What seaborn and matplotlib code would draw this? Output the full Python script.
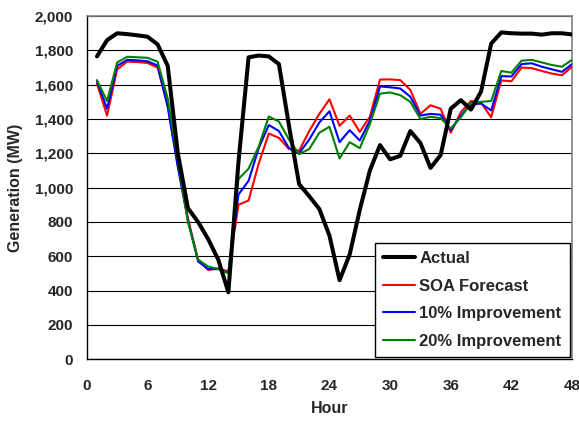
import numpy as np
import pandas as pd
import matplotlib
matplotlib.use("Agg")
import matplotlib.pyplot as plt
import matplotlib.ticker as mticker
import seaborn as sns

# ---- data (one value per hour) ----
hours = list(range(1, 49))

actual = [1765, 1860, 1900, 1895, 1888, 1880, 1835, 1710, 1200, 880,
          800, 700, 580, 390, 1150, 1760, 1770, 1765, 1720, 1360,
          1020, 950, 875, 720, 460, 610, 870, 1100, 1248, 1165,
          1185, 1330, 1260, 1115, 1190, 1460, 1510, 1455, 1560, 1840,
          1905, 1900, 1898, 1898, 1892, 1900, 1900, 1893]

soa = [1607, 1420, 1690, 1735, 1732, 1727, 1700, 1480, 1130, 820,
       580, 520, 530, 510, 900, 925, 1140, 1315, 1290, 1225,
       1215, 1330, 1430, 1515, 1360, 1420, 1325, 1413, 1630, 1631,
       1627, 1570, 1430, 1480, 1460, 1320, 1440, 1505, 1495, 1410,
       1625, 1620, 1700, 1697, 1680, 1665, 1655, 1705]

imp10 = [1620, 1460, 1710, 1745, 1742, 1737, 1712, 1470, 1120, 810,
         570, 525, 525, 505, 960, 1040, 1230, 1365, 1330, 1230,
         1200, 1280, 1380, 1445, 1265, 1335, 1275, 1390, 1590, 1585,
         1578, 1530, 1420, 1430, 1425, 1335, 1420, 1485, 1490, 1450,
         1650, 1648, 1720, 1725, 1705, 1690, 1675, 1720]

imp20 = [1627, 1505, 1730, 1763, 1760, 1757, 1734, 1520, 1160, 800,
         580, 540, 525, 500, 1050, 1110, 1240, 1415, 1385, 1280,
         1195, 1225, 1320, 1355, 1170, 1265, 1230, 1370, 1548, 1555,
         1539, 1500, 1400, 1413, 1405, 1345, 1410, 1495, 1500, 1505,
         1680, 1670, 1740, 1745, 1730, 1715, 1705, 1745]

series_names = ["Actual", "SOA Forecast", "10% Improvement", "20% Improvement"]
series_values = [actual, soa, imp10, imp20]
colors = ["#000000", "#FF0000", "#0000FF", "#008000"]
widths = [2.9, 1.5, 1.5, 1.5]
zorders = [6, 3, 4, 5]

df = pd.DataFrame({"Hour": hours})
for name, vals in zip(series_names, series_values):
    df[name] = vals
long_df = df.melt(id_vars="Hour", var_name="Series", value_name="MW")

# ---- plot ----
sns.set_style("white")
plt.rcParams["font.family"] = ["Liberation Sans", "DejaVu Sans"]
plt.rcParams["font.weight"] = "bold"

fig = plt.figure(figsize=(5.79, 4.24), dpi=100)
ax = fig.add_axes([0.150, 0.153, 0.838, 0.809])

for name, col, lw, z in zip(series_names, colors, widths, zorders):
    sub = long_df[long_df["Series"] == name]
    sns.lineplot(data=sub, x="Hour", y="MW", color=col, linewidth=lw,
                 label=name, ax=ax, zorder=z, solid_joinstyle="round",
                 solid_capstyle="round")

ax.set_xlim(0, 48)
ax.set_ylim(0, 2000)
ax.set_xticks(range(0, 49, 6))
ax.set_yticks(range(0, 2001, 200))
ax.yaxis.set_major_formatter(mticker.FuncFormatter(lambda v, p: f"{int(v):,}"))
ax.grid(axis="y", color="black", linewidth=0.8)
ax.set_axisbelow(True)

for s in ["left", "bottom"]:
    ax.spines[s].set_color("black")
    ax.spines[s].set_linewidth(1.0)
for s in ["top", "right"]:
    ax.spines[s].set_color("#808080")
    ax.spines[s].set_linewidth(1.2)

ax.tick_params(axis="both", direction="out", length=4, width=1, color="black",
               labelsize=11)
ax.tick_params(axis="y", pad=6)
ax.tick_params(axis="x", pad=10)
for lab in ax.get_xticklabels() + ax.get_yticklabels():
    lab.set_fontweight("bold")

ax.set_xlabel("Hour", fontsize=11.5, fontweight="bold", labelpad=6)
ax.set_ylabel("Generation (MW)", fontsize=11.5, fontweight="bold", labelpad=8)

leg = ax.legend(loc="lower right", fontsize=12, frameon=True, fancybox=False,
                edgecolor="black", framealpha=1, borderpad=0.5,
                handlelength=1.9, handletextpad=0.25, labelspacing=0.75,
                borderaxespad=0, bbox_to_anchor=(0.995, 0.006))
leg.get_frame().set_linewidth(1.0)
for t in leg.get_texts():
    t.set_fontweight("bold")

fig.savefig("out.png", dpi=100)
